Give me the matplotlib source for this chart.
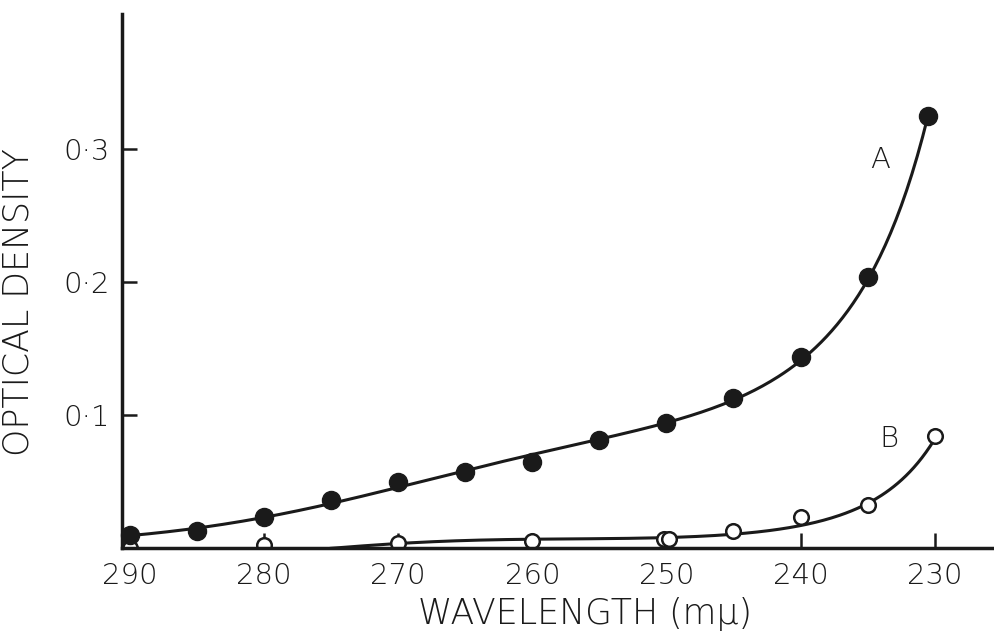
import numpy as np
import matplotlib
matplotlib.use("Agg")
import matplotlib.pyplot as plt

plt.rcParams['font.family'] = ['DejaVu Sans']
plt.rcParams['font.weight'] = 'light'
plt.rcParams['axes.labelweight'] = 'light'

# curve A (filled circles)
wl_a = [290, 285, 280, 275, 270, 265, 260, 255, 250, 245, 240, 235, 230.5]
od_a = [0.010, 0.013, 0.023, 0.036, 0.050, 0.057, 0.065, 0.081, 0.094, 0.113, 0.144, 0.204, 0.325]

# curve B (open circles)
wl_b = [290, 280, 270, 260, 250.2, 249.8, 245, 240, 235, 230]
od_b = [0.000, 0.002, 0.004, 0.005, 0.007, 0.007, 0.0125, 0.023, 0.032, 0.084]

# smooth line traced for B
trace_wl_b = [275, 270, 260, 250, 245, 240, 237, 235, 233, 231, 230.2]
trace_od_b = [0.000, 0.003, 0.006, 0.009, 0.011, 0.017, 0.024, 0.031, 0.045, 0.063, 0.079]

xticks = [290, 280, 270, 260, 250, 240, 230]
yticks = [0.1, 0.2, 0.3]
ylabels = ['0·1', '0·2', '0·3']

ink = '#1a1a1a'

fig = plt.figure(figsize=(9.95, 6.33), dpi=100)
ax = fig.add_axes([0.1226, 0.1343, 0.8774, 0.8437])

# smooth curves fitted through the readings
wa = np.ones(len(wl_a))
wa[-1] = 6
pa = np.polyfit(np.array(wl_a) - 260, np.log(od_a), 4, w=wa)
xa = np.linspace(290, 230.5, 300)
ax.plot(xa, np.exp(np.polyval(pa, xa - 260)), color=ink, lw=2.2, zorder=2)

wb = np.ones(len(trace_wl_b))
wb[-1] = 6
pb = np.polyfit(np.array(trace_wl_b) - 255, np.log(np.array(trace_od_b) + 0.01), 3, w=wb)
xb = np.linspace(275, 230.2, 300)
ax.plot(xb, np.exp(np.polyval(pb, xb - 255)) - 0.01, color=ink, lw=2.2, zorder=2)

ax.plot(wl_a, od_a, 'o', color=ink, ms=13, zorder=3, clip_on=False)
ax.plot(wl_b, od_b, 'o', mfc='white', mec=ink, mew=1.8, ms=10.5, zorder=2.2)

ax.text(234.1, 0.292, 'A', fontsize=21, ha='center', va='center', color=ink)
ax.text(233.4, 0.082, 'B', fontsize=21, ha='center', va='center', color=ink)

ax.set_xlim(290.6, 225.5)
ax.set_ylim(0, 0.402)
ax.set_xticks(xticks)
ax.set_yticks(yticks)
ax.set_yticklabels(ylabels)

for s in ['top', 'right']:
    ax.spines[s].set_visible(False)
for s in ['left', 'bottom']:
    ax.spines[s].set_linewidth(2.5)
    ax.spines[s].set_color(ink)

ax.tick_params(direction='in', length=11, width=1.8, colors=ink,
               labelsize=21, pad=10)
ax.tick_params(axis='y', pad=9)

ax.set_xlabel('WAVELENGTH (mμ)', fontsize=25, color=ink)
ax.set_ylabel('OPTICAL DENSITY', fontsize=25, color=ink)
ax.xaxis.set_label_coords(0.53, -0.092)
ax.yaxis.set_label_coords(-0.0985, 0.46)

fig.savefig('out.png', dpi=100)
